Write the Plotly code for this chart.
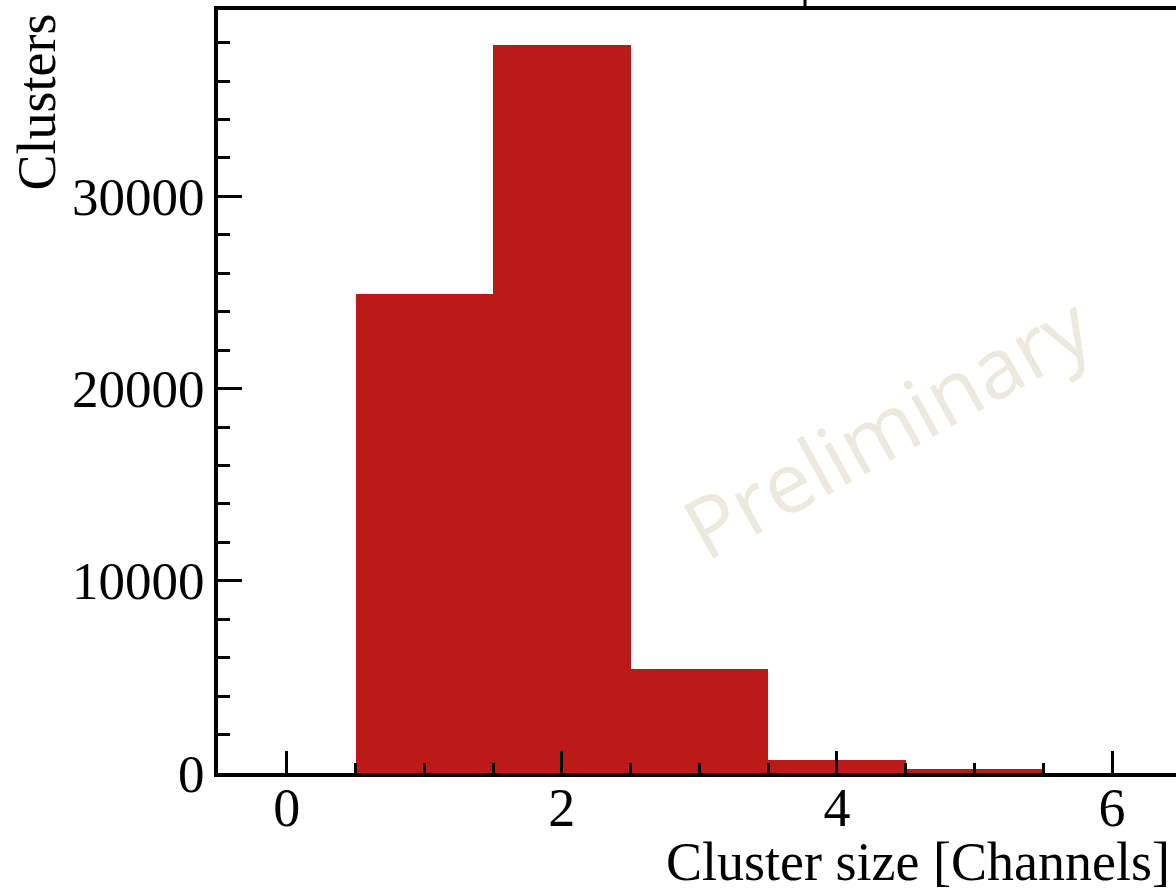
import plotly.graph_objects as go

# Data
bin_centers = [1, 2, 3, 4, 5, 6]
counts = [24900, 37880, 5430, 700, 210, 0]
x_tick_vals = [0, 2, 4, 6]
x_tick_text = ["0", "2", "4", "6"]
y_tick_vals = [0, 10000, 20000, 30000]
y_tick_text = ["0", "10000", "20000", "30000"]

W, H = 1176, 891
ML, MR, MT, MB = 218, 0, 10, 118
PW = W - ML - MR
PH = H - MT - MB

def px_x(p):
    return (p - ML) / PW

def px_y(p):
    return (H - MB - p) / PH

serif = "Liberation Serif, Times New Roman, serif"

fig = go.Figure()
fig.add_trace(go.Bar(
    x=bin_centers, y=counts, width=1.0,
    marker=dict(color="#BD1919", line=dict(width=0)),
    showlegend=False,
))

fig.update_layout(
    width=W, height=H,
    margin=dict(l=ML, r=MR, t=MT, b=MB, pad=0),
    paper_bgcolor="white", plot_bgcolor="white",
    bargap=0,
    xaxis=dict(
        range=[-0.5, 6.465],
        showgrid=False, zeroline=False,
        showline=True, linecolor="black", linewidth=4, mirror=True,
        ticks="inside", ticklen=22, tickwidth=3, tickcolor="black",
        tickvals=x_tick_vals, ticktext=x_tick_text,
        tickfont=dict(family=serif, size=54, color="black"),
        ticklabelstandoff=-16,
        minor=dict(ticks="inside", ticklen=10, tickwidth=3, tickcolor="black", dtick=0.5, tick0=0),
    ),
    yaxis=dict(
        range=[0, 39700],
        showgrid=False, zeroline=False,
        showline=True, linecolor="black", linewidth=4, mirror=False,
        ticks="inside", ticklen=24, tickwidth=3, tickcolor="black",
        tickvals=y_tick_vals, ticktext=y_tick_text,
        tickfont=dict(family=serif, size=53, color="black"),
        ticklabelstandoff=-1,
        minor=dict(ticks="inside", ticklen=12, tickwidth=3, tickcolor="black", dtick=2000, tick0=0),
    ),
)

annotations = [
    dict(text="Clusters", xref="paper", yref="paper",
         x=px_x(36), y=px_y(12), xanchor="center", yanchor="top",
         textangle=-90, showarrow=False,
         font=dict(family=serif, size=54, color="black")),
    dict(text="Cluster size [Channels]", xref="paper", yref="paper",
         x=px_x(1172), y=px_y(862), xanchor="right", yanchor="middle",
         showarrow=False,
         font=dict(family=serif, size=54, color="black")),
    dict(text="Preliminary", xref="paper", yref="paper",
         x=px_x(886), y=px_y(425), xanchor="center", yanchor="middle",
         textangle=-29, showarrow=False,
         font=dict(family="Open Sans, sans-serif", size=84, color="rgb(236,233,222)")),
]
fig.update_layout(annotations=annotations)

# small stray tick above the top frame
fig.add_shape(type="line", xref="paper", yref="paper",
              x0=px_x(805), x1=px_x(805), y0=px_y(0), y1=px_y(9),
              line=dict(color="black", width=3))

fig.write_html("out.html")
